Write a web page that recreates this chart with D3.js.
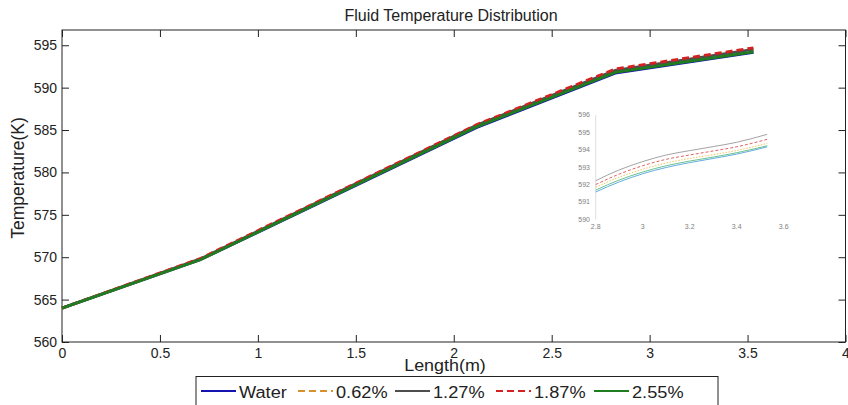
<!DOCTYPE html>
<html>
<head>
<meta charset="utf-8">
<script src="https://cdn.jsdelivr.net/npm/d3@7"></script>
<style>
  body { margin: 0; background: #fff; }
  svg { display: block; font-family: "Liberation Sans", Arial, sans-serif; }
</style>
</head>
<body>
<svg width="848" height="405"></svg>
<script>
// main chart data
var lengthM = [0, 0.706, 1.412, 2.118, 2.824, 3.53];
var water = [564.0, 569.7, 577.5, 585.3, 591.7, 594.17];
var nano062 = [564.0, 569.75, 577.6, 585.45, 591.95, 594.37];
var nano127 = [564.0, 569.8, 577.68, 585.58, 592.05, 594.52];
var nano187 = [564.0, 569.85, 577.75, 585.65, 592.2, 594.7];
var nano255 = [564.0, 569.7, 577.55, 585.4, 591.8, 594.23];
var seriesNames = ["Water", "0.62%", "1.27%", "1.87%", "2.55%"];

var xTicks = [0, 0.5, 1, 1.5, 2, 2.5, 3, 3.5, 4];
var yTicks = [560, 565, 570, 575, 580, 585, 590, 595];

// zoomed inset data
var insetX = [2.8, 2.9, 3.0, 3.1, 3.2, 3.3, 3.4, 3.53];
var insetWater = [591.57, 592.15, 592.62, 592.98, 593.26, 593.5, 593.75, 594.17];
var inset062 = [591.84, 592.42, 592.88, 593.24, 593.5, 593.72, 593.96, 594.37];
var inset127 = [592.22, 592.84, 593.32, 593.7, 593.95, 594.18, 594.43, 594.89];
var inset187 = [592.0, 592.6, 593.08, 593.45, 593.7, 593.93, 594.17, 594.6];
var inset255 = [591.68, 592.26, 592.72, 593.08, 593.35, 593.58, 593.83, 594.23];
var insetXTicks = [2.8, 3, 3.2, 3.4, 3.6];
var insetYTicks = [590, 591, 592, 593, 594, 595, 596];

var styles = [
  {color: '#1414b0', dash: null, width: 2.8},
  {color: '#d8902c', dash: '7,4', width: 2.8},
  {color: '#4e4e4e', dash: null, width: 2.8},
  {color: '#d42222', dash: '7,4', width: 2.8},
  {color: '#1f7d1f', dash: null, width: 2.8}
];
var insetStyles = [
  {color: '#62aee0', dash: null},
  {color: '#ecc860', dash: '1.5,1.5'},
  {color: '#a4a4a4', dash: null},
  {color: '#e06464', dash: '3,2'},
  {color: '#6cc090', dash: null}
];

var svg = d3.select('svg');

var x = d3.scaleLinear().domain([0, 4]).range([62, 845.5]);
var y = d3.scaleLinear().domain([560, 596.8]).range([342, 30]);

// axes, ticks inside like matlab
svg.append('g')
    .attr('transform', 'translate(0,342)')
    .call(d3.axisBottom(x).tickValues(xTicks).tickFormat(d => String(d))
           .tickSizeInner(-7).tickSizeOuter(0).tickPadding(6))
    .call(g => g.selectAll('text').attr('font-size', 14).attr('fill', '#222')
                .attr('font-family', '"Liberation Sans", Arial, sans-serif'));
svg.append('g')
    .attr('transform', 'translate(62,0)')
    .call(d3.axisLeft(y).tickValues(yTicks).tickFormat(d => String(d))
           .tickSizeInner(-7).tickSizeOuter(0).tickPadding(5))
    .call(g => g.selectAll('text').attr('font-size', 14).attr('fill', '#222')
                .attr('font-family', '"Liberation Sans", Arial, sans-serif'));
svg.append('g')
    .attr('transform', 'translate(0,30)')
    .call(d3.axisTop(x).tickValues(xTicks).tickFormat('').tickSizeInner(-7).tickSizeOuter(0));
svg.append('g')
    .attr('transform', 'translate(845.5,0)')
    .call(d3.axisRight(y).tickValues(yTicks).tickFormat('').tickSizeInner(-7).tickSizeOuter(0));
svg.selectAll('.domain').remove();
svg.selectAll('.tick line').attr('stroke', '#222');

svg.append('rect')
    .attr('x', 62).attr('y', 30)
    .attr('width', 845.5 - 62).attr('height', 312)
    .attr('fill', 'none').attr('stroke', '#222').attr('stroke-width', 1);

// lines
var allSeries = [water, nano062, nano127, nano187, nano255];
var line = d3.line()
    .x((d, i) => x(lengthM[i]))
    .y(d => y(d));

svg.selectAll('.series')
    .data(allSeries)
    .enter()
    .append('path')
      .classed('series', true)
      .attr('d', line)
      .attr('fill', 'none')
      .attr('stroke', (d, i) => styles[i].color)
      .attr('stroke-width', (d, i) => styles[i].width)
      .attr('stroke-dasharray', (d, i) => styles[i].dash);

// inset
var ix = d3.scaleLinear().domain([2.8, 3.6]).range([595.7, 783.7]);
var iy = d3.scaleLinear().domain([590, 596]).range([219.3, 115]);
var inset = svg.append('g');
inset.append('line')
    .attr('x1', ix(2.8)).attr('x2', ix(2.8))
    .attr('y1', iy(596)).attr('y2', iy(590))
    .attr('stroke', '#d4d4d4').attr('stroke-width', 0.8);
inset.selectAll('.iyt')
    .data(insetYTicks)
    .enter()
    .append('text')
      .attr('x', 590).attr('y', d => iy(d) + 2.4)
      .attr('text-anchor', 'end')
      .attr('font-size', 7).attr('fill', '#808080')
      .text(d => d);
inset.selectAll('.ixt')
    .data(insetXTicks)
    .enter()
    .append('text')
      .attr('x', d => ix(d)).attr('y', 229)
      .attr('text-anchor', 'middle')
      .attr('font-size', 7).attr('fill', '#808080')
      .text(d => d);

var insetSeries = [insetWater, inset062, inset127, inset187, inset255];
var insetLine = d3.line()
    .x((d, i) => ix(insetX[i]))
    .y(d => iy(d))
    .curve(d3.curveMonotoneX);
inset.selectAll('.iseries')
    .data(insetSeries)
    .enter()
    .append('path')
      .attr('d', insetLine)
      .attr('fill', 'none')
      .attr('stroke', (d, i) => insetStyles[i].color)
      .attr('stroke-width', 1)
      .attr('stroke-dasharray', (d, i) => insetStyles[i].dash);

// titles
svg.append('text')
    .attr('x', 451).attr('y', 21)
    .attr('text-anchor', 'middle')
    .attr('font-size', 16).attr('fill', '#222')
    .text('Fluid Temperature Distribution');
svg.append('text')
    .attr('transform', 'translate(445,371) scale(1.12,1)')
    .attr('text-anchor', 'middle')
    .attr('font-size', 16).attr('fill', '#222')
    .text('Length(m)');
svg.append('text')
    .attr('transform', 'translate(24,178) rotate(-90)')
    .attr('text-anchor', 'middle')
    .attr('font-size', 17.5).attr('fill', '#222')
    .text('Temperature(K)');

// legend
var legendX = [200, 297, 394, 495, 593];
var legend = svg.append('g');
legend.append('rect')
    .attr('x', 196).attr('y', 376.5)
    .attr('width', 522).attr('height', 40)
    .attr('fill', '#fff').attr('stroke', '#222').attr('stroke-width', 1);
var items = legend.selectAll('.item')
    .data(seriesNames)
    .enter()
    .append('g')
      .attr('transform', (d, i) => `translate(${legendX[i]},391)`);
items.append('line')
    .attr('x1', 1).attr('x2', 36)
    .attr('stroke', (d, i) => styles[i].color)
    .attr('stroke-width', 2)
    .attr('stroke-dasharray', (d, i) => styles[i].dash);
items.append('text')
    .attr('transform', 'translate(39,6.5) scale(1.07,1)')
    .attr('font-size', 17).attr('fill', '#222')
    .text(d => d);
</script>
</body>
</html>
